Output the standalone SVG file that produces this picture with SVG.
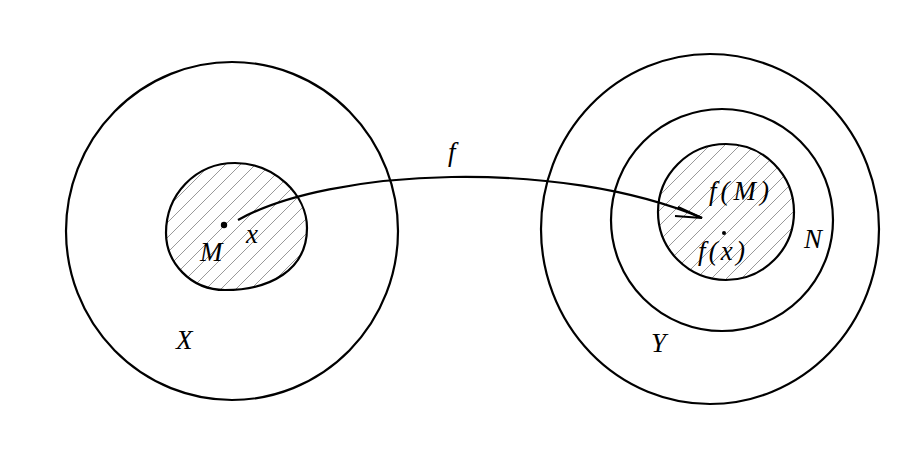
<svg xmlns="http://www.w3.org/2000/svg" width="919" height="458" viewBox="0 0 919 458">
<style>
.ln{fill:none;stroke:#000;stroke-width:2.2}
.t{font-family:"Liberation Serif","DejaVu Serif",serif;font-style:italic;font-size:27px;fill:#000}
.h{fill:url(#hatch);stroke:#000;stroke-width:2.2}
</style>
<defs>
<pattern id="hatch" patternUnits="userSpaceOnUse" width="15" height="15">
<path d="M-2,17 L17,-2 M-2,2 L2,-2 M13,17 L17,13" stroke="#999" stroke-width="1"/>
</pattern>
</defs>
<rect width="919" height="458" fill="#fff"/>
<g id="X">
<ellipse class="ln" cx="232" cy="231" rx="166" ry="169"/>
<text class="t" x="176" y="349">X</text>
</g>
<g id="M">
<path class="h" d="M225,290 C190,290 166,262 166,233 C166,195 195,163 235,163 C275,163 307,195 307,228 C307,270 270,290 225,290 Z"/>
<circle cx="224" cy="225" r="3.2" fill="#000"/>
<text class="t" x="200" y="261">M</text>
<text class="t" x="246" y="243">x</text>
</g>
<g id="Y">
<ellipse class="ln" cx="710" cy="229" rx="169" ry="175"/>
<text class="t" x="651" y="352">Y</text>
</g>
<g id="N">
<circle class="ln" cx="722" cy="220" r="111"/>
<text class="t" x="804" y="248">N</text>
</g>
<g id="fM">
<circle class="h" cx="726" cy="212" r="68"/>
<circle cx="724" cy="233" r="2" fill="#000"/>
<text class="t" x="709" y="200" textLength="60" lengthAdjust="spacing">f(M)</text>
<text class="t" x="698" y="260" textLength="47" lengthAdjust="spacing">f(x)</text>
</g>
<g id="connectors">
<path class="ln" d="M238,220 C330,168 560,158 702,218"/>
<path class="ln" d="M678,207 L702,218 L675,216"/>
<text class="t" x="448" y="161">f</text>
</g>
</svg>
